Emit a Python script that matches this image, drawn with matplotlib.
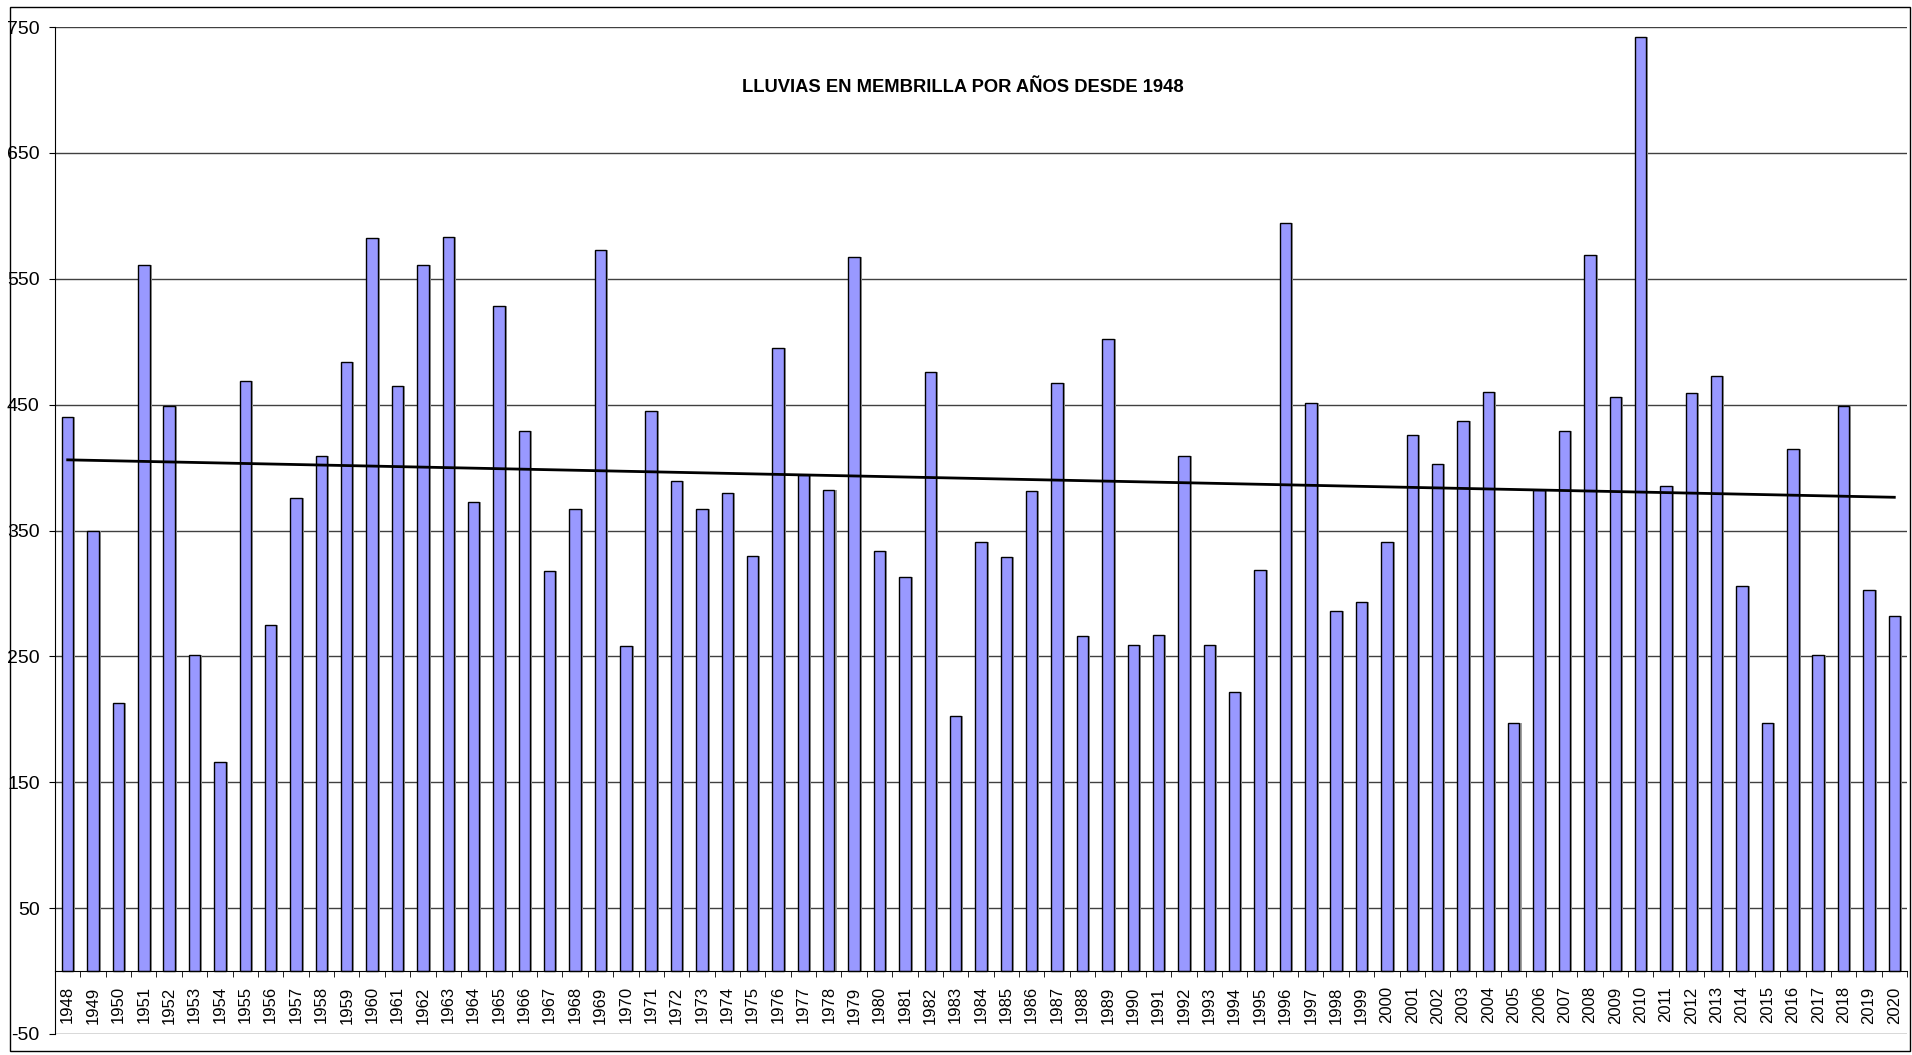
import numpy as np
import matplotlib.pyplot as plt
from matplotlib.patches import Rectangle
from matplotlib.ticker import FixedLocator

plt.rcParams['font.family'] = ['Liberation Sans', 'DejaVu Sans']
plt.rcParams['axes.unicode_minus'] = False

# Lluvia anual (l/m2) en Membrilla
years = list(range(1948, 2021))
lluvia = [440, 350, 213, 561, 449, 251, 166, 469, 275, 376, 409, 484, 582,
          465, 561, 583, 373, 528, 429, 318, 367, 573, 258,
          445, 389, 367, 380, 330, 495, 394, 382, 567, 334,
          313, 476, 203, 341, 329, 381, 467, 266, 502, 259,
          267, 409, 259, 222, 319, 594, 451, 286, 293, 341,
          426, 403, 437, 460, 197, 382, 429, 569, 456, 742,
          385, 459, 473, 306, 197, 415, 251, 449, 303, 282]
y_ticks = list(range(-50, 751, 100))
titulo = 'LLUVIAS EN MEMBRILLA POR AÑOS DESDE 1948'

x = np.arange(len(years))

fig = plt.figure(figsize=(19.12, 10.55), dpi=100)
ax = fig.add_axes([55 / 1912, 1 - 1034 / 1055, (1907 - 55) / 1912, (1034 - 27) / 1055])

# borde exterior del gráfico
fig.patches.append(Rectangle((10 / 1912, 1 - 1051 / 1055), 1900 / 1912, 1044 / 1055,
                             transform=fig.transFigure, fill=False,
                             edgecolor='black', linewidth=1))

# eje x a la altura de 0 (antes de tocar los ticks, porque los reinicia)
for s in ['top', 'right']:
    ax.spines[s].set_visible(False)
ax.spines['bottom'].set_position(('data', 0))
ax.spines['bottom'].set_zorder(5)

# sombra + barras
ax.bar(x + 0.08, lluvia, width=0.45, color='#a0a0a0', zorder=2)
ax.bar(x, lluvia, width=0.45, color='#9999ff', edgecolor='black', linewidth=1, zorder=3)

# línea de tendencia (ajuste lineal)
coef = np.polyfit(x, lluvia, 1)
ax.plot(x, np.polyval(coef, x), color='black', linewidth=2, zorder=4)

ax.set_xlim(-0.5, len(years) - 0.5)
ax.set_ylim(-50, 750)
ax.set_yticks(y_ticks)
ax.yaxis.grid(True, color='#404040', linewidth=1)
ax.set_axisbelow(True)

ax.set_xticks(x)
ax.set_xticklabels([str(a) for a in years], rotation=90, fontsize=12)
ax.xaxis.set_minor_locator(FixedLocator(np.arange(-0.5, len(years), 1)))
ax.tick_params(axis='x', which='major', length=0, pad=11)
ax.tick_params(axis='x', which='minor', length=4, direction='out', color='black')
ax.tick_params(axis='y', length=4, direction='out', pad=7, labelsize=14)

fig.text(963 / 1912, 1 - 88 / 1055, titulo, ha='center', va='center',
         fontsize=13.2, fontweight='bold')

plt.savefig('out.png', dpi=100)
